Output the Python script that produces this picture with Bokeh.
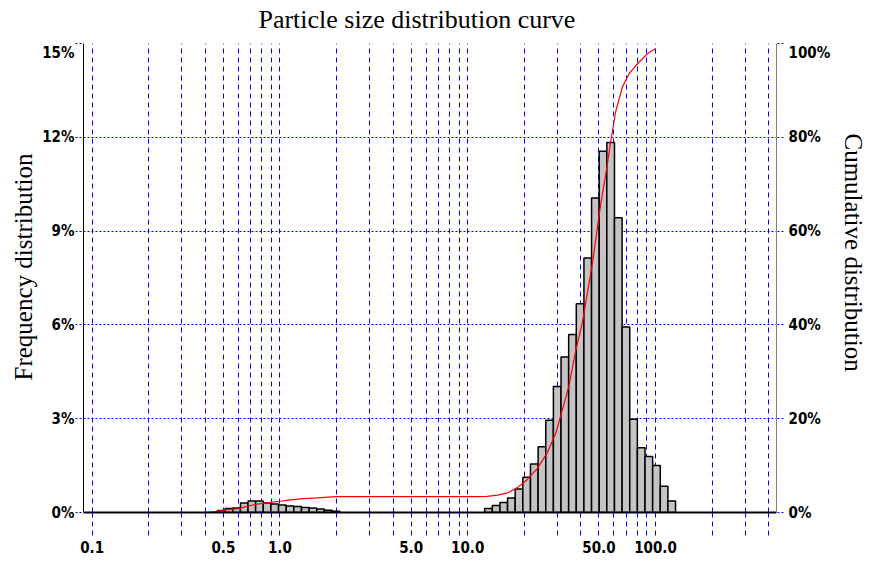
from bokeh.plotting import figure
from bokeh.models import Range1d, LinearAxis, FixedTicker, Title
from bokeh.layouts import column
from bokeh.core.properties import value
from bokeh.embed import file_html
from bokeh.resources import INLINE

TITLE = "Particle size distribution curve"
LEFT_LABEL = "Frequency distribution"
RIGHT_LABEL = "Cumulative distribution"

# Fine-particle cluster: size class edges (um) and frequency (%)
fine_edges = [0.465, 0.510, 0.561, 0.616, 0.676, 0.742, 0.815, 0.895, 0.983,
              1.080, 1.185, 1.302, 1.430, 1.570, 1.724, 1.893, 2.079]
fine_freq = [0.06, 0.13, 0.14, 0.30, 0.37, 0.37, 0.30, 0.27, 0.24, 0.21,
             0.19, 0.16, 0.14, 0.11, 0.07, 0.04]

# Coarse cluster: size class edges (um) and frequency (%)
coarse_edges = [12.31, 13.52, 14.85, 16.30, 17.90, 19.66, 21.59, 23.71, 26.04,
                28.59, 31.40, 34.48, 37.86, 41.58, 45.66, 50.14, 55.06, 60.47,
                66.40, 72.92, 80.08, 87.94, 96.57, 106.05, 116.46, 127.89]
coarse_freq = [0.13, 0.22, 0.32, 0.46, 0.75, 1.13, 1.55, 2.10, 2.95, 4.03,
               4.97, 5.69, 6.68, 8.14, 10.06, 11.55, 11.83, 9.43, 5.93, 2.98,
               2.07, 1.79, 1.50, 0.84, 0.37]

# Cumulative distribution curve (size um, cumulative %)
cum_size = [0.168, 0.40, 0.452, 0.50, 0.60, 0.652, 0.737, 0.85, 1.0, 1.13,
            1.33, 1.57, 2.0, 11.5, 12.7, 14.4, 16.3, 18.4, 20.7, 23.4, 26.5,
            29.5, 32.5, 34.6, 37.6, 40.8, 46.1, 51.1, 54.3, 57.7, 61.4, 66.6,
            72.2, 81.6, 92.3, 100.0]
cum_pct = [0.0, 0.0, 0.2, 0.5, 0.8, 1.2, 1.7, 2.05, 2.4, 2.7, 2.95, 3.1, 3.4,
           3.4, 3.45, 3.7, 4.2, 5.3, 7.0, 9.3, 12.7, 17.0, 23.0, 27.0, 34.5,
           40.5, 53.0, 65.8, 72.0, 79.0, 85.5, 90.7, 93.5, 96.0, 98.1, 98.9]

x_grid_ticks = [0.1, 0.2, 0.3, 0.4, 0.5, 0.6, 0.7, 0.8, 0.9,
                1, 2, 3, 4, 5, 6, 7, 8, 9,
                10, 20, 30, 40, 50, 60, 70, 80, 90,
                100, 200, 300, 400]
x_labeled = {0.1: "0.1", 0.5: "0.5", 1: "1.0", 5: "5.0", 10: "10.0",
             50: "50.0", 100: "100.0"}
freq_ticks = [0, 3, 6, 9, 12, 15]
freq_labels = ["0%", "3%", "6%", "9%", "12%", "15%"]
cum_ticks = [0, 20, 40, 60, 80, 100]
cum_labels = ["0%", "20%", "40%", "60%", "80%", "100%"]

TICK_FONT = "DejaVu Sans Condensed, Liberation Sans"
SERIF = "Liberation Serif"

# ---- title strip ----
tf = figure(width=875, height=43, x_range=Range1d(0, 875), y_range=Range1d(0, 43),
            output_backend="svg", toolbar_location=None, min_border=0,
            outline_line_color=None, x_axis_type=None, y_axis_type=None)
tf.text(x=[421], y=[24], text=[TITLE], text_font=value(SERIF),
        text_font_size="26px", text_align="center", text_baseline="alphabetic",
        text_color="black")

# ---- main plot ----
p = figure(width=875, height=518, x_axis_type="log",
           x_range=Range1d(0.0899, 441), y_range=Range1d(0, 15),
           output_backend="svg", toolbar_location=None,
           min_border_top=0, min_border_left=83, min_border_right=95,
           min_border_bottom=49, outline_line_color=None)
p.extra_y_ranges = {"cum": Range1d(0, 100)}

p.xgrid.grid_line_color = "#0000ff"
p.xgrid.grid_line_dash = "5 4"
p.ygrid.ticker = FixedTicker(ticks=[3, 6, 9, 12])
p.ygrid.grid_line_color = "#0000ff"
p.ygrid.grid_line_dash = "2 2"

for edges, freq in ((fine_edges, fine_freq), (coarse_edges, coarse_freq)):
    p.quad(left=edges[:-1], right=edges[1:], top=freq, bottom=0,
           fill_color="#c4c4c4", line_color="black", line_width=1.5)

p.line(cum_size, cum_pct, y_range_name="cum", line_color="red", line_width=1.2)

xa = p.xaxis[0]
xa.ticker = FixedTicker(ticks=x_grid_ticks, minor_ticks=[])
xa.major_label_overrides = {t: x_labeled.get(t, "") for t in x_grid_ticks}
xa.axis_line_color = "black"
xa.axis_line_width = 2
xa.major_tick_in = 0
xa.major_tick_out = 23
xa.major_tick_line_color = "#0000ff"
xa.major_tick_line_dash = "5 4"
xa.minor_tick_line_color = None
xa.major_label_standoff = 5

ya = p.yaxis[0]
ya.ticker = FixedTicker(ticks=freq_ticks, minor_ticks=[])
ya.major_label_overrides = dict(zip(freq_ticks, freq_labels))
ya.axis_line_color = "black"
ya.major_tick_in = 0
ya.major_tick_out = 8
ya.major_tick_line_color = "#0000ff"
ya.major_tick_line_dash = "2 2"
ya.minor_tick_line_color = None
ya.major_label_standoff = 1

ra = LinearAxis(y_range_name="cum", ticker=FixedTicker(ticks=cum_ticks, minor_ticks=[]))
ra.major_label_overrides = dict(zip(cum_ticks, cum_labels))
ra.axis_line_color = "#808080"
ra.major_tick_in = 0
ra.major_tick_out = 7
ra.major_tick_line_color = "#0000ff"
ra.major_tick_line_dash = "2 2"
ra.minor_tick_line_color = None
ra.major_label_standoff = 5
p.add_layout(ra, "right")

for ax in (xa, ya, ra):
    ax.major_label_text_font = TICK_FONT
    ax.major_label_text_font_size = "15px"
    ax.major_label_text_font_style = "bold"
    ax.major_label_text_color = "black"

p.add_layout(Title(text=LEFT_LABEL, align="left", offset=132,
                   text_font=SERIF, text_font_size="25px", text_color="black",
                   text_font_style="normal", standoff=6), "left")
p.add_layout(Title(text=RIGHT_LABEL, align="left", offset=90,
                   text_font=SERIF, text_font_size="25px", text_color="black",
                   text_font_style="normal", standoff=13), "right")

layout = column(tf, p)
open("out.html", "w").write(file_html(layout, INLINE))
